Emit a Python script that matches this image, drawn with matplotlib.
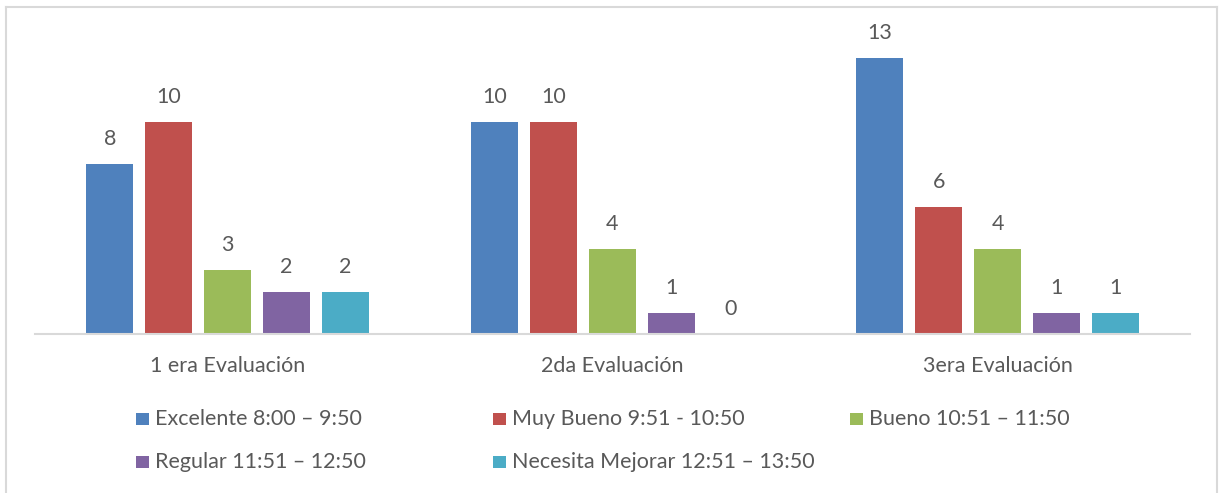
import matplotlib
matplotlib.use("Agg")
import matplotlib.pyplot as plt
from matplotlib.patches import Rectangle
from matplotlib.lines import Line2D
import numpy as np

plt.rcParams['font.family'] = ['Lato', 'DejaVu Sans']

categories = ["1 era Evaluación", "2da Evaluación", "3era Evaluación"]
series_names = [
    "Excelente 8:00 – 9:50",
    "Muy Bueno 9:51 - 10:50",
    "Bueno 10:51 – 11:50",
    "Regular 11:51 – 12:50",
    "Necesita Mejorar 12:51 – 13:50",
]
excelente = [8, 10, 13]
muy_bueno = [10, 10, 6]
bueno = [3, 4, 4]
regular = [2, 1, 1]
necesita_mejorar = [2, 0, 1]
series_values = [excelente, muy_bueno, bueno, regular, necesita_mejorar]
colors = ["#4F81BD", "#C0504D", "#9BBB59", "#8064A2", "#4BACC6"]

W, H = 1222, 493
DPI = 100
fig = plt.figure(figsize=(W / DPI, H / DPI), dpi=DPI)

text_color = "#595959"
line_color = "#D9D9D9"
fs = 15.5

# plot area in pixel coordinates
ax_left, ax_right = 35, 1190
ax_bottom_px, ax_top_px = 334, 16
ax = fig.add_axes([ax_left / W, (H - ax_bottom_px) / H,
                   (ax_right - ax_left) / W, (ax_bottom_px - ax_top_px) / H])

x = np.arange(len(categories))
step = 0.153
width = 0.122
for i, (vals, c) in enumerate(zip(series_values, colors)):
    offs = (i - 2) * step
    bars = ax.bar(x + offs, vals, width=width, color=c, zorder=2)
    for b, v in zip(bars, vals):
        ax.annotate(str(v), (b.get_x() + b.get_width() / 2, v),
                    xytext=(0, 19), textcoords="offset pixels",
                    ha="center", va="baseline", fontsize=fs, color=text_color)

ax.set_xlim(-0.5, len(categories) - 0.5)
ax.set_ylim(0, 15)
ax.set_yticks([])
ax.set_xticks(x)
ax.set_xticklabels(categories, fontsize=fs, color=text_color)
ax.tick_params(axis="x", length=0, pad=16)
for s in ["top", "left", "right"]:
    ax.spines[s].set_visible(False)
ax.spines["bottom"].set_color(line_color)
ax.spines["bottom"].set_linewidth(1.5)
ax.patch.set_alpha(0)

# legend drawn as rows of square swatches and labels
leg_cols = [136, 493, 850]
leg_rows = [425, 468]
for i, (name, c) in enumerate(zip(series_names, colors)):
    col = leg_cols[i % 3]
    row = leg_rows[i // 3]
    fig.add_artist(Rectangle((col / W, (H - row) / H), 13 / W, 12 / H,
                             transform=fig.transFigure, color=c, lw=0))
    fig.text((col + 19) / W, (H - row) / H, name, fontsize=fs,
             color=text_color, ha="left", va="baseline")

# chart frame
lw = 1.5
fig.add_artist(Line2D([6 / W, 1217 / W], [(H - 7) / H, (H - 7) / H],
                      transform=fig.transFigure, color=line_color, lw=lw))
fig.add_artist(Line2D([6 / W, 6 / W], [0, (H - 7) / H],
                      transform=fig.transFigure, color=line_color, lw=lw))
fig.add_artist(Line2D([1217 / W, 1217 / W], [0, (H - 7) / H],
                      transform=fig.transFigure, color=line_color, lw=lw))

fig.savefig("out.png", dpi=DPI)
